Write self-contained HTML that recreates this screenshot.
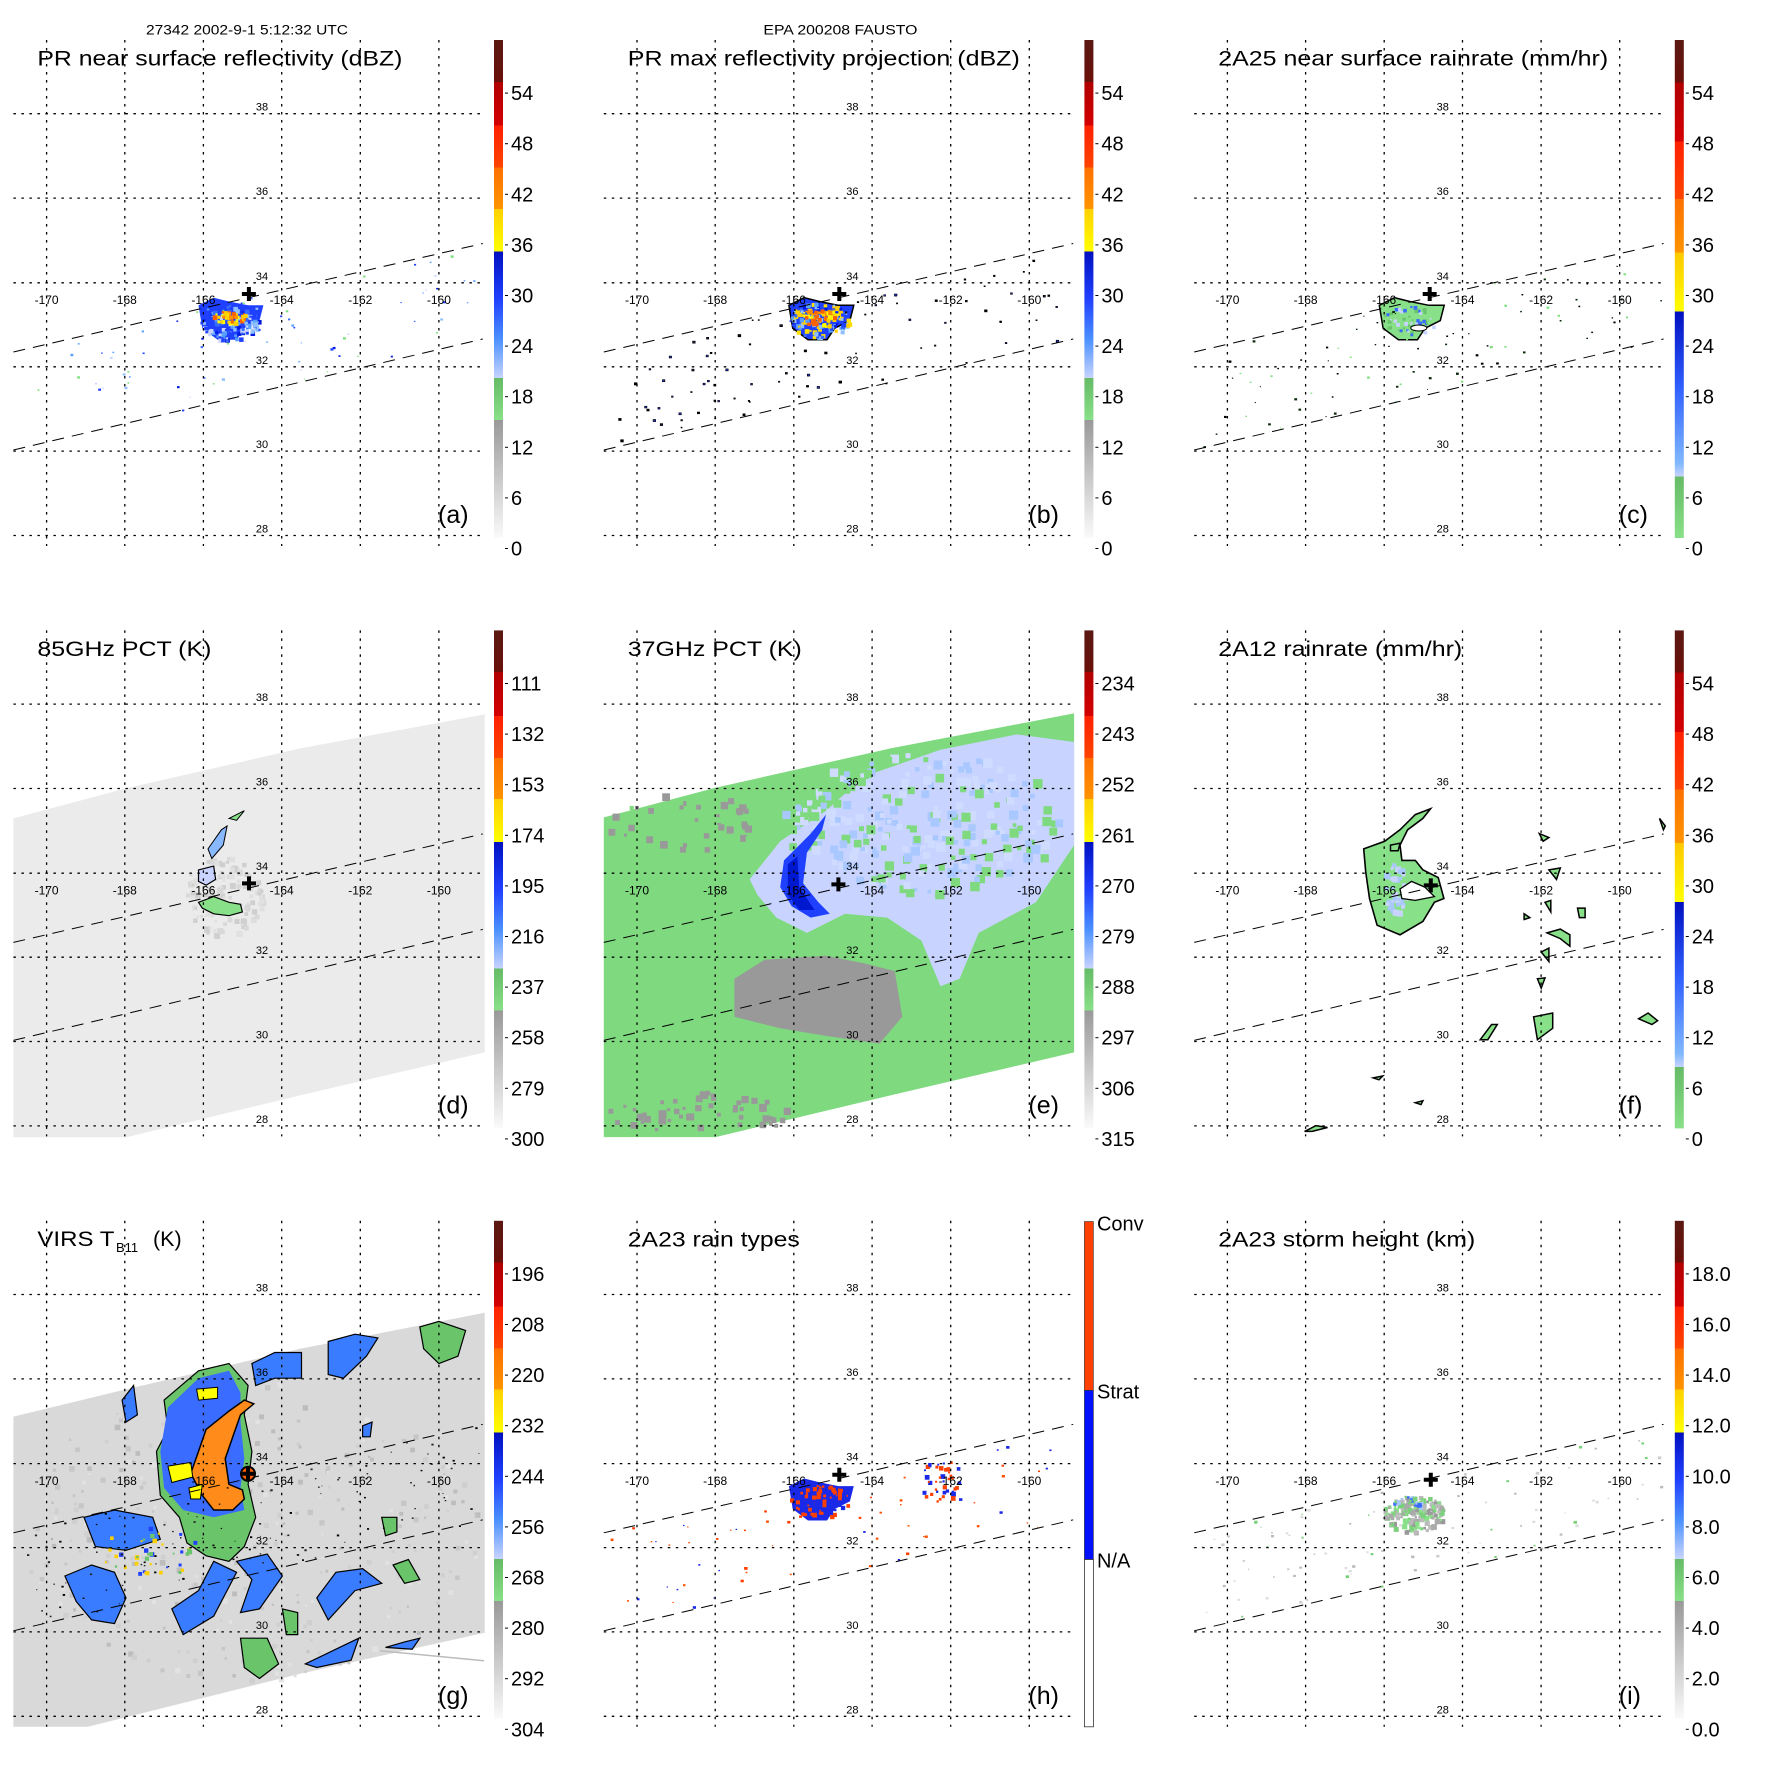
<!DOCTYPE html>
<html><head><meta charset="utf-8">
<style>
html,body{margin:0;padding:0;background:#fff;}
svg{display:block;}
text{font-family:"Liberation Sans",sans-serif;fill:#000;}
</style></head>
<body>
<svg id="s" width="1771" height="1771" viewBox="0 0 1771 1771" xmlns="http://www.w3.org/2000/svg">
<defs>
<linearGradient id="gstd" x1="0" y1="0" x2="0" y2="1">
<stop offset="0" stop-color="#5a1812"/><stop offset="0.084" stop-color="#6a100a"/>
<stop offset="0.084" stop-color="#b00000"/><stop offset="0.172" stop-color="#d40000"/>
<stop offset="0.172" stop-color="#ff2000"/><stop offset="0.256" stop-color="#ff4400"/>
<stop offset="0.256" stop-color="#ff7000"/><stop offset="0.339" stop-color="#ff9400"/>
<stop offset="0.339" stop-color="#ffd000"/><stop offset="0.425" stop-color="#ffff00"/>
<stop offset="0.425" stop-color="#0010c0"/><stop offset="0.52" stop-color="#2040ff"/>
<stop offset="0.6" stop-color="#4a90ff"/><stop offset="0.679" stop-color="#c8d4ff"/>
<stop offset="0.679" stop-color="#66bb66"/><stop offset="0.763" stop-color="#88e088"/>
<stop offset="0.763" stop-color="#999999"/><stop offset="1" stop-color="#fafafa"/>
</linearGradient>
<linearGradient id="grain" x1="0" y1="0" x2="0" y2="1">
<stop offset="0" stop-color="#5a1812"/><stop offset="0.085" stop-color="#6a100a"/>
<stop offset="0.085" stop-color="#b00000"/><stop offset="0.204" stop-color="#d40000"/>
<stop offset="0.204" stop-color="#ff2000"/><stop offset="0.319" stop-color="#ff4400"/>
<stop offset="0.319" stop-color="#ff7000"/><stop offset="0.427" stop-color="#ff9400"/>
<stop offset="0.427" stop-color="#ffc800"/><stop offset="0.545" stop-color="#ffff00"/>
<stop offset="0.545" stop-color="#0010c0"/><stop offset="0.7" stop-color="#3060ff"/>
<stop offset="0.85" stop-color="#80b8ff"/><stop offset="0.877" stop-color="#c8d4ff"/>
<stop offset="0.877" stop-color="#66bb66"/><stop offset="1" stop-color="#88e088"/>
</linearGradient>
</defs>
</svg>
<script>
(function(){
var NS="http://www.w3.org/2000/svg",S=document.getElementById("s");
function el(p,t,a,txt){var e=document.createElementNS(NS,t);for(var k in a)e.setAttribute(k,a[k]);if(txt!=null)e.textContent=txt;p.appendChild(e);return e;}
var seed=12345;function rnd(){seed=(seed*16807)%2147483647;return (seed-1)/2147483646;}
var SP=590.4;
var GX=[46.6,124.8,203.4,281.7,360.3,438.9],GY=[113.7,198.1,282.8,366.8,451.1,535.5];
function up(x){return 352-(x-13.4)*(108.5/469.4);}
function lo(x){return 450-(x-13.4)*(111/469.4);}
function poly(g,pts,fill,stroke,sw){return el(g,"polygon",{points:pts.map(function(p){return p[0].toFixed(1)+","+p[1].toFixed(1)}).join(" "),fill:fill,stroke:stroke||"none","stroke-width":sw||1});}
function conv(pts,ox,oy,sy){return pts.map(function(p){return [p[0]/2.62+ox,p[1]/(sy||2.62)+oy];});}
function speck(g,n,cols,x0,x1,band,sz,stroke){
 for(var i=0;i<n;i++){var x=x0+rnd()*(x1-x0);var t=rnd();var y=band?up(x)+t*(lo(x)-up(x)):0;
 var w=sz*(0.6+rnd());el(g,"rect",{x:x.toFixed(1),y:y.toFixed(1),width:w.toFixed(1),height:(w*0.8).toFixed(1),fill:cols[Math.floor(rnd()*cols.length)],stroke:stroke||"none","stroke-width":0.6});}
}
function cluster(g,cx,cy,rx,ry,n,cols,sz){
 for(var i=0;i<n;i++){var a=rnd()*6.283,r=Math.sqrt(rnd());var x=cx+Math.cos(a)*rx*r,y=cy+Math.sin(a)*ry*r;var w=sz*(0.6+rnd());
 el(g,"rect",{x:x.toFixed(1),y:y.toFixed(1),width:w.toFixed(1),height:w.toFixed(1),fill:cols[Math.floor(rnd()*cols.length)]});}
}
function cross(g,x,y){el(g,"path",{d:"M"+(x-7)+","+y+"h14M"+x+","+(y-7)+"v14",stroke:"#000","stroke-width":4});}
function frame(g){
 GX.forEach(function(x){el(g,"line",{x1:x,y1:40,x2:x,y2:546,stroke:"#000","stroke-width":1.3,"stroke-dasharray":"2.5,5.5"});});
 GY.forEach(function(y){el(g,"line",{x1:13.4,y1:y,x2:484.7,y2:y,stroke:"#000","stroke-width":1.3,"stroke-dasharray":"2.5,5.5"});});
 ["38","36","34","32","30","28"].forEach(function(t,i){el(g,"text",{x:262,y:GY[i]-3,"font-size":11,"text-anchor":"middle"},t);});
 ["-170","-168","-166","-164","-162","-160"].forEach(function(t,i){el(g,"text",{x:GX[i],y:304,"font-size":12,"text-anchor":"middle"},t);});
 el(g,"line",{x1:13.4,y1:352,x2:482.8,y2:243.5,stroke:"#000","stroke-width":1,"stroke-dasharray":"12,8"});
 el(g,"line",{x1:13.4,y1:450,x2:482.8,y2:339,stroke:"#000","stroke-width":1,"stroke-dasharray":"12,8"});
}
function cbar(g,grad,labels){
 el(g,"rect",{x:494,y:40,width:9,height:498,fill:"url(#"+grad+")"});
 labels.forEach(function(t,k){var yc=548.5-k*50.6;el(g,"line",{x1:505,y1:yc,x2:508,y2:yc,stroke:"#000","stroke-width":1});
 el(g,"text",{x:511,y:yc+7,"font-size":20},t);});
}
function title(g,t,lab,tl){el(g,"text",{x:37.4,y:65.6,"font-size":21.5,textLength:tl,lengthAdjust:"spacingAndGlyphs"},t);
 el(g,"text",{x:438,y:523,"font-size":25},lab);}
function panel(c,r){return el(S,"g",{transform:"translate("+(c*SP)+","+(r*SP)+")"});}

var dbz=["0","6","12","18","24","30","36","42","48","54"];
var BL=["#0018e0","#2040ff","#3a6cff","#5aa0ff","#90c0ff"],YO=["#ffd000","#ffff00","#ff9000","#ff6000"];

// (a)
var g=panel(0,0);
el(g,"text",{x:146,y:34.4,"font-size":13.5,textLength:202,lengthAdjust:"spacingAndGlyphs"},"27342 2002-9-1 5:12:32 UTC");
var bA=conv([[520,800],[560,780],[600,790],[650,800],[690,800],[680,840],[640,860],[620,890],[570,890],[530,860]],0,0);
poly(g,bA,"#2040ff");
cluster(g,228,322,30,18,140,BL.concat(["#c8d4ff"]),3);
cluster(g,228,316,18,6,40,YO,3);
speck(g,70,BL.concat(["#7be07b","#c8d4ff"]),20,480,true,2);
frame(g);cross(g,248.9,294);cbar(g,"gstd",dbz);title(g,"PR near surface reflectivity (dBZ)","(a)",365);

// (b)
g=panel(1,0);
el(g,"text",{x:173,y:34.4,"font-size":13.5,textLength:154,lengthAdjust:"spacingAndGlyphs"},"EPA 200208 FAUSTO");
poly(g,bA,"#2040ff","#000",1.5);
cluster(g,228,320,30,18,140,BL.concat(["#ffd000","#ffe000"]),3);
cluster(g,228,316,20,8,60,YO,3);
speck(g,80,["#1a1a40","#2030c0","#000"],20,480,true,1.8,"#000");
frame(g);cross(g,248.9,294);cbar(g,"gstd",dbz);title(g,"PR max reflectivity projection (dBZ)","(b)",392);

// (c)
g=panel(2,0);
poly(g,bA,"#88e088","#000",1.5);
cluster(g,228,320,26,15,50,["#c8d4ff","#6ac46a","#3a6cff"],2.5);
el(g,"ellipse",{cx:238,cy:328,rx:8,ry:3,fill:"#fff",stroke:"#000"});
speck(g,80,["#0a2a0a","#000","#7be07b"],20,480,true,1.8);
frame(g);cross(g,248.9,294);cbar(g,"grain",dbz);title(g,"2A25 near surface rainrate (mm/hr)","(c)",390);

// (d)
g=panel(0,1);
poly(g,[[13.4,228],[126,198],[300,158],[484.7,124],[484.7,462],[300,505],[126,547],[13.4,547]],"#ebebeb");
cluster(g,222,305,40,40,120,["#d8d8d8","#cfcfcf","#e0e0e0"],4);
poly(g,conv([[600,580],[640,560],[620,585]],0,6.6),"#88e088","#000",1);
poly(g,conv([[545,660],[580,610],[595,600],[585,650],[555,685]],0,6.6),"#88b8ff","#000",1);
poly(g,conv([[520,715],[560,705],[565,740],[540,755],[520,745]],0,6.6),"#c8d4ff","#000",1.2);
poly(g,conv([[520,800],[560,785],[600,800],[630,805],[635,825],[600,835],[560,830],[530,815]],0,6.6),"#88e088","#000",1.2);
frame(g);cross(g,249,293);cbar(g,"gstd",["300","279","258","237","216","195","174","153","132","111"]);title(g,"85GHz PCT (K)","(d)",174);

// (e)
g=panel(1,1);
poly(g,[[13.4,227],[125,197.4],[300,158],[483.7,123],[483.7,462],[300,505],[125,546.7],[13.4,546.7]],"#7fd97f");
poly(g,conv([[400,740],[480,640],[600,560],[700,470],[900,400],[1100,360],[1250,380],[1250,650],[1150,800],[1000,880],[950,1000],[900,1020],[850,900],[760,840],[650,830],[550,880],[470,840],[420,780]],6.6,6.6),"#c8d4ff");
cluster(g,330,230,140,70,260,["#7fd97f","#a8c8ff","#d0dcff"],6);
poly(g,conv([[490,690],[530,650],[560,620],[600,570],[590,610],[550,670],[540,750],[580,800],[610,830],[560,840],[510,810],[480,760]],6.6,6.6),"#2040ff");
poly(g,conv([[500,700],[525,680],[530,760],[570,820],[530,820],[500,780]],6.6,6.6),"#0018d0");
poly(g,conv([[360,1000],[440,950],[600,940],[700,960],[780,980],[800,1100],[740,1170],[600,1150],[480,1130],[360,1100]],6.6,6.6),"#999");
cluster(g,90,230,80,30,60,["#999","#7fd97f"],5);
cluster(g,110,520,100,20,50,["#999"],5);
frame(g);cross(g,248,294);cbar(g,"gstd",["315","306","297","288","279","270","261","252","243","234"]);title(g,"37GHz PCT (K)","(e)",174);

// (f)
g=panel(2,1);
var F=function(p){return conv(p,-9.8,6.6);};
poly(g,F([[505,660],[560,640],[600,610],[640,570],[680,555],[660,580],[620,610],[600,650],[605,690],[640,690],[660,715],[700,735],[715,790],[690,800],[660,850],[600,885],[540,860],[520,790],[510,720]]),"#88e088","#000",1.6);
cluster(g,215,297,15,25,40,["#c8d4ff","#a8c8ff"],4);
poly(g,F([[600,765],[630,745],[665,760],[690,785],[640,795],[605,790]]),"#fff","#000",1.3);
var sm=[[[965,620],[990,630],[975,640]],[[990,715],[1020,710],[1010,740]],[[980,800],[995,795],[995,825]],[[1065,815],[1085,815],[1085,840],[1070,840]],[[985,880],[1020,870],[1045,885],[1045,915],[1020,895]],[[970,930],[990,920],[990,955]],[[960,1000],[980,998],[970,1025]],[[950,1100],[1000,1090],[1000,1130],[960,1160]],[[810,1160],[840,1120],[855,1120],[830,1160]],[[1225,1105],[1250,1090],[1275,1110],[1260,1120]],[[1280,580],[1295,600],[1290,610]],[[350,1400],[380,1385],[410,1390],[370,1400]],[[530,1260],[555,1255],[545,1265]],[[640,1325],[660,1320],[655,1330]],[[925,830],[940,840],[925,845]],[[575,650],[600,645],[595,665],[575,665]]];
sm.forEach(function(p){poly(g,F(p),"#88e088","#000",1.5);});
frame(g);cross(g,250,295);cbar(g,"grain",dbz);title(g,"2A12 rainrate (mm/hr)","(f)",244);

// (g)
g=panel(0,2);
var G=function(p){return conv(p,0,14.2,2.73);};
poly(g,[[13.4,235.8],[120,210],[300,168],[484.7,132],[484.7,452],[300,493],[87.8,546],[13.4,546]],"#d9d9d9");
cluster(g,250,350,230,150,300,["#c6c6c6","#cfcfcf","#e2e2e2","#bdbdbd"],3.5);
poly(g,G([[430,560],[520,480],[600,460],[650,520],[640,600],[660,700],[650,790],[670,880],[640,960],[600,1000],[540,985],[490,950],[470,880],[420,820],[410,700],[440,640]]),"#6ac46a","#000",1.2);
poly(g,G([[440,580],[520,500],[600,480],[630,540],[630,620],[640,720],[630,800],[640,860],[560,880],[480,860],[430,800],[420,700]]),"#3a6cff");
poly(g,G([[540,640],[600,590],[640,560],[665,570],[630,600],[610,660],[590,720],[600,790],[635,805],[640,830],[610,860],[560,860],[530,820],[500,760],[520,700]]),"#ff8c1a","#000",1.5);
poly(g,G([[440,740],[500,730],[505,770],[450,785]]),"#ffff00","#000",1);
poly(g,G([[515,530],[570,525],[570,555],[520,560]]),"#ffff00","#000",1);
poly(g,G([[495,800],[530,790],[525,830],[500,830]]),"#ffff00","#000",1);
var gb=[[[660,460],[720,430],[790,430],[790,500],[720,500],[670,520]],[[860,400],[930,380],[990,390],[960,440],[900,500],[860,490]],[[1100,360],[1150,345],[1220,370],[1200,440],[1150,460],[1110,420]],[[170,1040],[240,1010],[300,1030],[330,1100],[300,1170],[240,1160],[200,1110]],[[220,880],[300,860],[400,880],[420,940],[330,970],[250,960]],[[630,1210],[700,1210],[730,1280],[680,1320],[640,1290]],[[800,1280],[880,1240],[940,1210],[920,1270],[830,1290]],[[830,1100],[880,1030],[950,1020],[1000,1060],[930,1080],[860,1160]],[[1030,1010],[1070,995],[1100,1050],[1060,1060]],[[450,1130],[520,1080],[560,1000],[620,1030],[560,1150],[480,1200]],[[620,1000],[700,980],[740,1040],[680,1130],[630,1140],[660,1050]],[[740,1130],[780,1140],[780,1200],[750,1200]],[[1010,1235],[1060,1220],[1100,1210],[1080,1240]],[[320,560],[350,520],[360,600],[330,620]],[[1000,880],[1040,880],[1040,920],[1010,930]],[[950,630],[975,620],[970,660],[950,660]]];
gb.forEach(function(p,i){poly(g,G(p),i%3==2?"#6ac46a":"#3a7cff","#000",1.2);});
cluster(g,150,370,50,25,40,["#ffd000","#6ac46a","#2040ff"],3);
speck(g,120,["#000","#222"],20,480,true,1.5);
el(g,"line",{x1:380,y1:470,x2:484,y2:480,stroke:"#bbb","stroke-width":1.5});
frame(g);
el(g,"circle",{cx:248,cy:293,r:7,fill:"#ff6000",stroke:"#000","stroke-width":2});cross(g,248,293);
cbar(g,"gstd",["304","292","280","268","256","244","232","220","208","196"]);
el(g,"text",{x:37.4,y:65,"font-size":21.5,textLength:77,lengthAdjust:"spacingAndGlyphs"},"VIRS T");
el(g,"text",{x:116,y:71,"font-size":13},"B11");
el(g,"text",{x:153,y:65,"font-size":21.5},"(K)");
el(g,"text",{x:438,y:523,"font-size":25},"(g)");

// (h)
g=panel(1,2);
poly(g,bA,"#1a28e8");
cluster(g,228,320,30,17,60,["#ff4000","#1a28e8"],3);
cluster(g,228,310,22,6,20,["#ff4000"],3);
speck(g,60,["#ff4000","#ff5000","#1a28e8"],20,480,true,2.2);
cluster(g,350,300,20,25,40,["#1a28e8","#ff4000"],3);
frame(g);cross(g,248.9,294);
el(g,"rect",{x:494,y:40.7,width:9,height:168.8,fill:"#ff4000",stroke:"#333","stroke-width":0.6});
el(g,"rect",{x:494,y:209.5,width:9,height:169.2,fill:"#0010ff",stroke:"#333","stroke-width":0.6});
el(g,"rect",{x:494,y:378.7,width:9,height:167.3,fill:"#fff",stroke:"#333","stroke-width":0.8});
el(g,"text",{x:506.6,y:49.6,"font-size":20},"Conv");
el(g,"text",{x:506.6,y:217.7,"font-size":20},"Strat");
el(g,"text",{x:506.6,y:386.6,"font-size":20},"N/A");
el(g,"text",{x:37.4,y:65.6,"font-size":21.5,textLength:172,lengthAdjust:"spacingAndGlyphs"},"2A23 rain types");
el(g,"text",{x:438,y:523,"font-size":25},"(h)");

// (i)
g=panel(2,2);
cluster(g,232,332,32,18,170,["#999","#aaa","#7bd07b","#88e088","#bbb"],3.5);
cluster(g,226,322,14,8,30,["#7bd07b","#3a6cff","#a8c8ff"],3);
speck(g,90,["#ccc","#ddd","#bbb","#7bd07b"],20,480,true,2.2);
frame(g);cross(g,250,299);cbar(g,"gstd",["0.0","2.0","4.0","6.0","8.0","10.0","12.0","14.0","16.0","18.0"]);title(g,"2A23 storm height (km)","(i)",257);
})();
</script>
</body></html>
